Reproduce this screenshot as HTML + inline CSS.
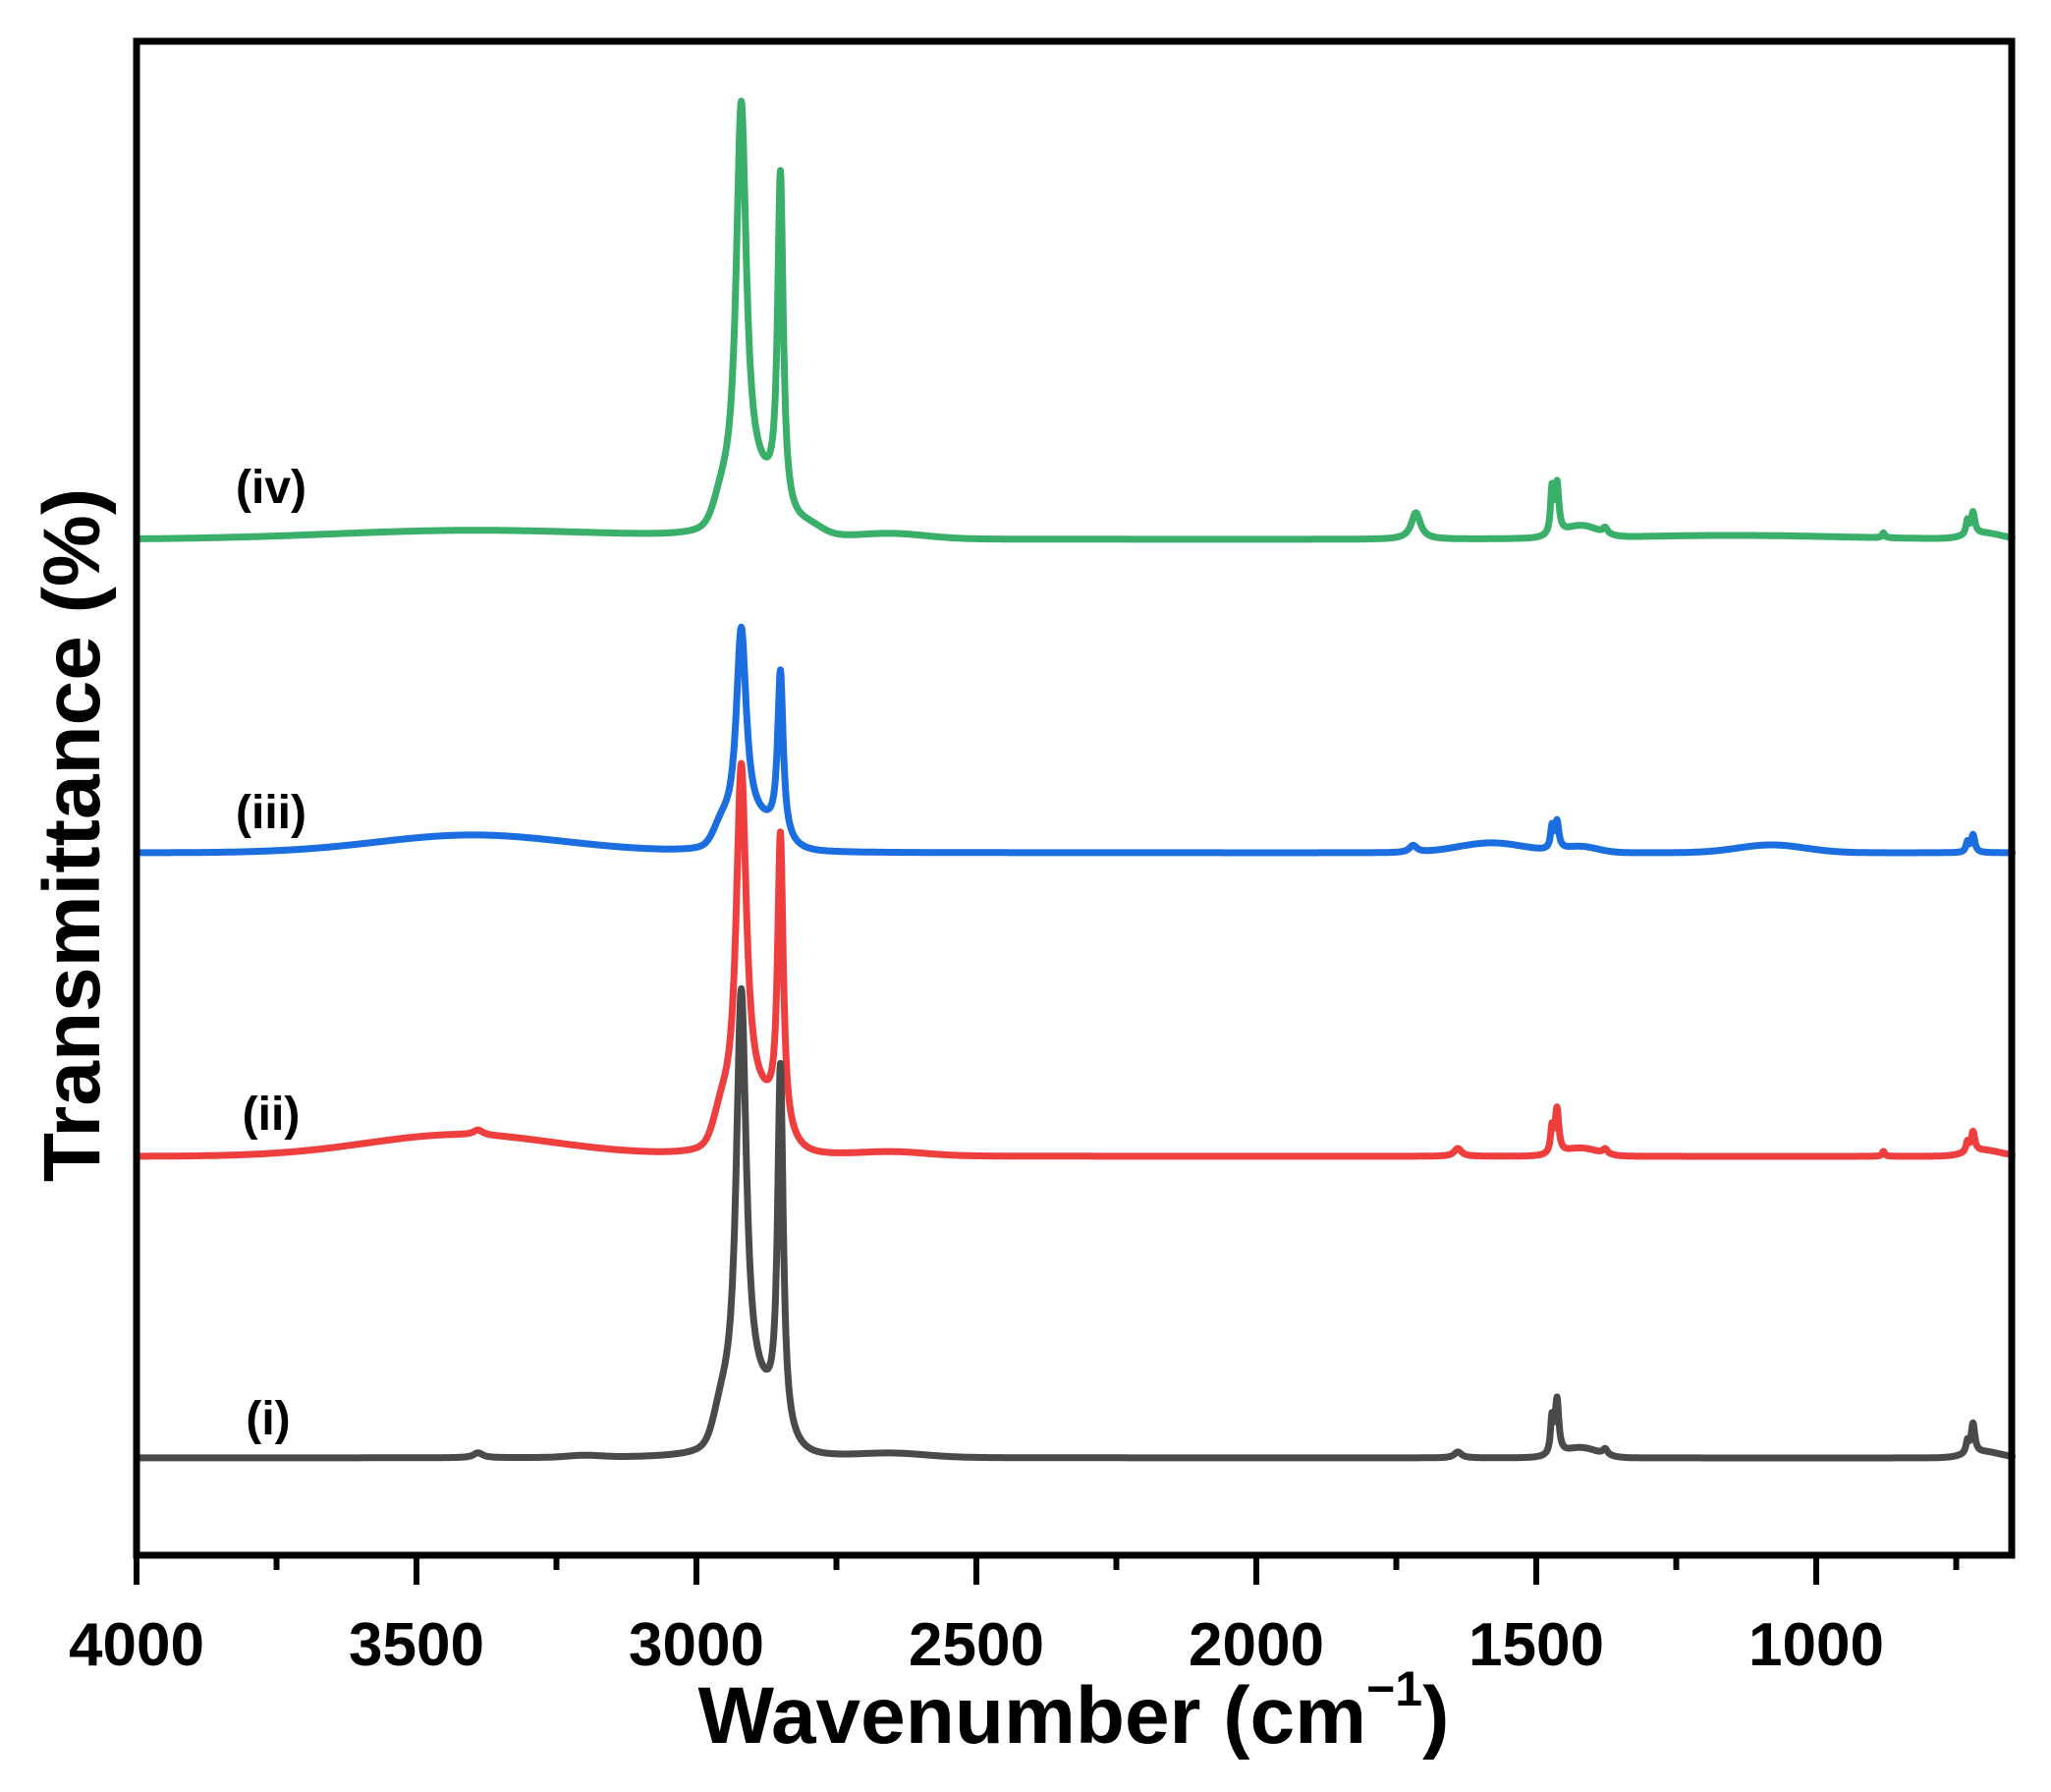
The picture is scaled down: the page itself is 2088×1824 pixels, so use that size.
<!DOCTYPE html>
<html><head><meta charset="utf-8"><style>
html,body{margin:0;padding:0;background:#fff;}
svg{display:block;}
text{font-family:"Liberation Sans",Arial,sans-serif;font-weight:bold;fill:#000;}
</style></head><body>
<svg id="s" width="2088" height="1824" viewBox="0 0 2088 1824" xmlns="http://www.w3.org/2000/svg">
<g id="series" fill="none" stroke-width="7" stroke-linejoin="round" stroke-linecap="round"></g>
<rect x="139" y="42" width="1909" height="1541" fill="none" stroke="#000" stroke-width="7"/>
<g stroke="#000" stroke-width="6">
<line x1="139" y1="1583" x2="139" y2="1613"/><line x1="281.5" y1="1583" x2="281.5" y2="1598"/>
<line x1="424" y1="1583" x2="424" y2="1613"/><line x1="566.5" y1="1583" x2="566.5" y2="1598"/>
<line x1="709" y1="1583" x2="709" y2="1613"/><line x1="851.5" y1="1583" x2="851.5" y2="1598"/>
<line x1="994" y1="1583" x2="994" y2="1613"/><line x1="1136.5" y1="1583" x2="1136.5" y2="1598"/>
<line x1="1279" y1="1583" x2="1279" y2="1613"/><line x1="1421.5" y1="1583" x2="1421.5" y2="1598"/>
<line x1="1564" y1="1583" x2="1564" y2="1613"/><line x1="1706.5" y1="1583" x2="1706.5" y2="1598"/>
<line x1="1849" y1="1583" x2="1849" y2="1613"/><line x1="1991.5" y1="1583" x2="1991.5" y2="1598"/>
</g>
<g font-size="62" text-anchor="middle">
<text x="139" y="1695">4000</text><text x="424" y="1695">3500</text><text x="709" y="1695">3000</text>
<text x="994" y="1695">2500</text><text x="1279" y="1695">2000</text><text x="1564" y="1695">1500</text>
<text x="1849" y="1695">1000</text>
</g>
<text x="1093" y="1774" font-size="82" text-anchor="middle">Wavenumber (cm<tspan font-size="50" dy="-38">−1</tspan><tspan dy="38">)</tspan></text>
<text transform="translate(101,850) rotate(-90)" font-size="82" text-anchor="middle">Transmittance (%)</text>
<g font-size="48" text-anchor="middle">
<text x="276" y="512">(iv)</text>
<text x="276" y="843">(iii)</text>
<text x="276" y="1150">(ii)</text>
<text x="273" y="1460">(i)</text>
</g>
</svg>
<script>
function X(w){return 139+(4000-w)*0.57;}
function L(w,c,g,h){var d=(w-c)/g;return h/(1+d*d);}
function G(w,c,g,h){var d=(w-c)/g;return h*Math.exp(-d*d/2);}
var specs=[
 {col:"#3aaf6a",base:549,f:function(w){return G(w,3400,250,9)+G(w,2650,60,5)+G(w,2955,14,22)+L(w,2920,11,410)+L(w,2850,6,340)+G(w,2890,35,45)+G(w,2800,25,10)+L(w,1715,10,27)+L(w,1472,3,45)+L(w,1463,4,50)+G(w,1420,30,12)+L(w,1377,5,6)+L(w,880,3,5)+L(w,730,3,14)+L(w,720,4,22)+G(w,700,30,6)+G(w,1150,200,4);}},
 {col:"#1a6ee0",base:868,f:function(w){return G(w,3400,170,18)+G(w,2955,14,18)+L(w,2920,11,210)+L(w,2850,6,168)+G(w,2890,35,25)+L(w,1720,8,7)+G(w,1580,60,10)+L(w,1472,3,22)+L(w,1463,4,28)+G(w,1420,30,6)+G(w,1080,60,8)+L(w,730,3,10)+L(w,720,4,18);}},
 {col:"#ef3e3e",base:1177,f:function(w){return G(w,3420,170,22)+L(w,3390,10,5)+G(w,2955,14,28)+L(w,2920,11,365)+L(w,2850,6,298)+G(w,2890,35,45)+G(w,2650,60,4)+L(w,1640,8,8)+L(w,1472,3,25)+L(w,1463,4,45)+G(w,1420,30,8)+L(w,1377,5,5)+L(w,880,3,5)+L(w,730,3,10)+L(w,720,4,20)+G(w,700,30,6);}},
 {col:"#4a4a4a",base:1484,f:function(w){return L(w,3390,10,5)+G(w,3200,30,2)+G(w,2955,14,30)+L(w,2920,11,439)+L(w,2850,6,365)+G(w,2890,35,50)+G(w,2650,60,4)+L(w,1640,8,6)+L(w,1472,3,35)+L(w,1463,4,55)+G(w,1420,30,10)+L(w,1377,5,6)+L(w,730,3,12)+L(w,720,4,30)+G(w,700,30,6);}}
];
var g=document.getElementById("series");
specs.forEach(function(s){
 var d="";
 for(var w=4000;w>=650;w-=1){var y=s.base-s.f(w);d+=(w==4000?"M":"L")+X(w).toFixed(1)+" "+y.toFixed(1);}
 var p=document.createElementNS("http://www.w3.org/2000/svg","path");
 p.setAttribute("d",d);p.setAttribute("stroke",s.col);g.appendChild(p);
});
</script>
</body></html>
